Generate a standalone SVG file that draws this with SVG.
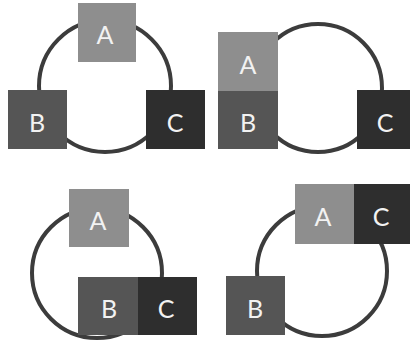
<svg xmlns="http://www.w3.org/2000/svg" width="410" height="342" viewBox="0 0 410 342">
<style>
.ring{fill:none;stroke:#3c3c3c;stroke-width:4}
.a{fill:#8e8e8e}
.b{fill:#555555}
.c{fill:#2e2e2e}
.t{font-family:"Lato","Open Sans",sans-serif;font-size:25px;fill:#f2f2f2;text-anchor:middle;dominant-baseline:central}
</style>
<rect width="410" height="342" fill="#ffffff"/>
<g id="connectors">
<circle class="ring" cx="105" cy="86" r="66"/>
<circle class="ring" cx="318" cy="88" r="64"/>
<circle class="ring" cx="97" cy="273" r="65"/>
<circle class="ring" cx="322" cy="271" r="65"/>
</g>
<g id="p1-A"><rect class="a" x="78" y="3" width="58" height="59"/><text class="t" x="105" y="34">A</text></g>
<g id="p1-B"><rect class="b" x="8" y="90" width="59" height="59"/><text class="t" x="37" y="122">B</text></g>
<g id="p1-C"><rect class="c" x="146" y="90" width="59" height="59"/><text class="t" x="175" y="122">C</text></g>
<g id="p2-A"><rect class="a" x="218" y="32" width="60" height="59"/><text class="t" x="248" y="64">A</text></g>
<g id="p2-B"><rect class="b" x="218" y="91" width="60" height="58"/><text class="t" x="248" y="122">B</text></g>
<g id="p2-C"><rect class="c" x="357" y="90" width="60" height="59"/><text class="t" x="385" y="122">C</text></g>
<g id="p3-A"><rect class="a" x="69" y="189" width="60" height="58"/><text class="t" x="98" y="220">A</text></g>
<g id="p3-B"><rect class="b" x="78" y="277" width="60" height="58"/><text class="t" x="109" y="308">B</text></g>
<g id="p3-C"><rect class="c" x="138" y="277" width="59" height="58"/><text class="t" x="166" y="308">C</text></g>
<g id="p4-A"><rect class="a" x="295" y="184" width="59" height="60"/><text class="t" x="323" y="216">A</text></g>
<g id="p4-C"><rect class="c" x="354" y="184" width="60" height="60"/><text class="t" x="381" y="216">C</text></g>
<g id="p4-B"><rect class="b" x="226" y="276" width="59" height="59"/><text class="t" x="255" y="308">B</text></g>
</svg>
